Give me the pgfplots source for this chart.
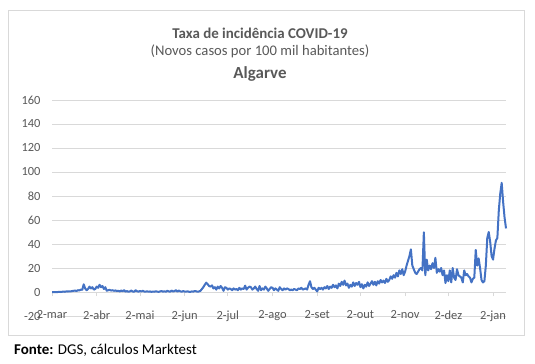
\documentclass[border=0pt]{standalone}
\usepackage{pgfplots}
\pgfplotsset{compat=1.18}
\usepackage{pgfplotstable}
\usepackage{fontspec}
\setmainfont{Carlito}
\definecolor{xlblue}{HTML}{4472C4}
\definecolor{xlgrid}{HTML}{D9D9D9}
\definecolor{xltext}{HTML}{595959}
\pgfplotstableread{
d v
0 0
1 0
2 0
3 0
4 0
5 0.1
6 0
7 0.2
8 0.3
9 0.2
10 0.5
11 0.4
12 0.6
13 0.5
14 0.8
15 1.0
16 1.2
17 0.8
18 1.5
19 1.3
20 2.0
21 1.8
22 6.4
23 3.0
24 1.5
25 2.5
26 4.5
27 3.0
28 4.0
29 2.0
30 2.5
31 4.5
32 3.5
33 6.0
34 4.0
35 5.0
36 2.5
37 4.0
38 1.0
39 1.5
40 1.8
41 1.2
42 1.5
43 1.0
44 1.3
45 0.8
46 1.0
47 0.5
48 1.2
49 0.6
50 1.5
51 0.3
52 0.8
53 0.2
54 0.5
55 1.2
56 0.4
57 0.2
58 1.5
59 0.6
60 0.3
61 0.8
62 0.5
63 1.0
64 0.4
65 0.3
66 0.6
67 0.2
68 0.5
69 0.1
70 0.4
71 0.2
72 0.6
73 0.3
74 0.1
75 0.5
76 0.8
77 0.3
78 0.6
79 0.2
80 1.0
81 0.5
82 0.3
83 1.2
84 0.4
85 0.8
86 1.5
87 0.3
88 1.2
89 0.6
90 0.2
91 0.8
92 0.4
93 0.3
94 0.6
95 0.2
96 0.1
97 0.5
98 0.3
99 0.8
100 0.6
101 0.2
102 0.5
103 1.0
104 2.5
105 4.0
106 6.0
107 7.8
108 6.5
109 5.0
110 4.5
111 5.5
112 3.0
113 4.0
114 2.0
115 4.5
116 3.0
117 5.0
118 3.5
119 1.0
120 4.0
121 3.5
122 2.0
123 3.0
124 2.5
125 1.5
126 3.0
127 2.0
128 2.5
129 1.5
130 3.5
131 2.0
132 3.0
133 2.5
134 5.3
135 2.0
136 3.5
137 4.5
138 4.0
139 2.0
140 3.0
141 4.5
142 2.5
143 1.0
144 5.0
145 1.5
146 3.0
147 2.0
148 4.5
149 3.0
150 1.0
151 2.5
152 4.0
153 3.5
154 1.5
155 3.0
156 2.0
157 1.0
158 4.0
159 2.5
160 1.5
161 3.0
162 2.0
163 3.0
164 2.5
165 1.5
166 2.0
167 1.5
168 2.5
169 2.0
170 1.5
171 3.0
172 2.5
173 3.5
174 2.0
175 2.5
176 3.0
177 2.0
178 6.0
179 9.0
180 4.0
181 2.5
182 3.5
183 2.0
184 0.5
185 3.5
186 2.5
187 3.5
188 2.0
189 4.0
190 3.0
191 5.0
192 2.5
193 4.5
194 3.5
195 6.0
196 4.0
197 5.5
198 3.0
199 7.0
200 5.0
201 8.5
202 6.0
203 9.5
204 5.5
205 7.0
206 3.5
207 6.0
208 4.5
209 8.0
210 5.0
211 7.5
212 6.0
213 8.5
214 4.0
215 6.5
216 3.0
217 6.0
218 4.5
219 8.0
220 5.0
221 7.0
222 9.0
223 6.0
224 8.5
225 5.5
226 9.0
227 7.0
228 10.0
229 8.0
230 9.5
231 7.5
232 11.0
233 8.5
234 10.0
235 13.0
236 11.0
237 14.0
238 12.0
239 16.0
240 13.0
241 18.0
242 15.0
243 19.0
244 14.0
245 17.0
246 22.0
247 26.0
248 30.0
249 35.5
250 22.0
251 19.0
252 16.0
253 15.0
254 17.0
255 19.0
256 20.0
257 18.0
258 49.7
259 14.0
260 27.0
261 18.0
262 22.0
263 19.0
264 24.0
265 20.0
266 28.5
267 16.0
268 19.0
269 17.0
270 20.0
271 14.0
272 18.0
273 7.5
274 14.0
275 9.0
276 18.0
277 8.0
278 20.0
279 12.0
280 10.0
281 19.0
282 14.0
283 13.0
284 12.0
285 8.0
286 18.0
287 14.0
288 15.0
289 13.0
290 12.0
291 8.0
292 11.0
293 12.0
294 35.0
295 22.0
296 28.0
297 20.0
298 10.0
299 8.0
300 9.0
301 22.0
302 45.0
303 50.0
304 42.0
305 30.0
306 27.0
307 36.0
308 43.0
309 45.0
310 68.0
311 82.0
312 91.0
313 75.0
314 62.0
315 53.0
}\algarve
\begin{document}
\begin{tikzpicture}[x=1bp,y=1bp]
\path[use as bounding box, fill=white] (0,0) rectangle (535,363);
\draw[xlgrid, line width=0.75bp] (8,28) rectangle (524,353);
\node[text=xltext, font=\fontsize{15}{17}\selectfont\bfseries] at (260,330) {Taxa de incidência COVID-19};
\node[text=xltext, font=\fontsize{14.7}{17}\selectfont] at (260,312) {(Novos casos por 100 mil habitantes)};
\node[text=xltext, font=\fontsize{17}{19}\selectfont\bfseries] at (260,289) {Algarve};
\node[anchor=west, text=black, font=\fontsize{15}{17}\selectfont, inner sep=0pt] at (14,13) {\textbf{Fonte:} DGS, cálculos Marktest};
\begin{axis}[
  at={(52bp,47bp)}, anchor=south west,
  scale only axis, width=454bp, height=216bp,
  xmin=0, xmax=315, ymin=-20, ymax=160,
  ytick={-20,0,20,40,60,80,100,120,140,160},
  xtick={0,31,61,92,122,153,184,214,245,275,306},
  xticklabels={2-mar,2-abr,2-mai,2-jun,2-jul,2-ago,2-set,2-out,2-nov,2-dez,2-jan},
  axis x line*=middle,
  axis y line*=left,
  hide obscured x ticks=false,
  hide obscured y ticks=false,
  y axis line style={draw=none},
  ytick style={draw=none},
  x axis line style={xlgrid, line width=0.75bp},
  xtick style={xlgrid, line width=0.75bp},
  tick align=outside, major tick length=4bp,
  ymajorgrids, grid style={xlgrid, line width=0.75bp},
  /pgf/number format/assume math mode=true,
  tick label style={text=xltext, font=\fontsize{12.5}{14}\selectfont},
  yticklabel style={anchor=east, xshift=-4bp},
  xticklabel style={anchor=north, yshift=-11bp},
  clip=false,
]
\addplot[xlblue, line width=2bp, line join=round] table[x=d, y=v] {\algarve};
\end{axis}
\end{tikzpicture}
\end{document}
